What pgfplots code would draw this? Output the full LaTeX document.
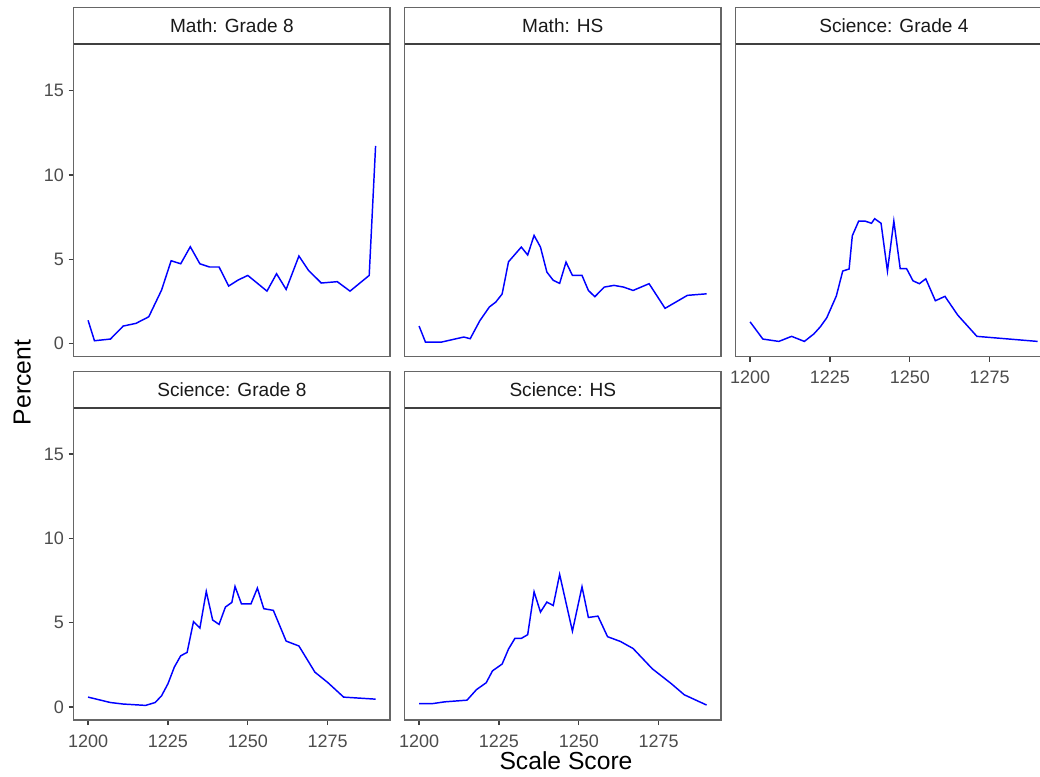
\documentclass[border=0pt]{standalone}
\usepackage{pgfplots}
\pgfplotsset{compat=1.18}
\usepackage{fontspec}
\setmainfont{Liberation Sans}

\def\pxu{0.75pt}

\pgfplotsset{
 panel/.style={
  scale only axis, width=237.2pt, height=234.8pt, anchor=north west,
  xmin=1195.5, xmax=1294.5, ymin=-0.77, ymax=17.78,
  xtick={1200,1225,1250,1275}, ytick={0,5,10,15},
  tick align=outside, major tick length=3.75pt,
  xtick pos=left, ytick pos=left,
  tick style={draw=black!75, line width=0.9pt},
  axis line style={draw=black!60, line width=0.9pt},
  tick label style={font=\fontsize{13.5}{15}\selectfont, text=black!70},
  xticklabel style={yshift=-3.5pt},
  /pgf/number format/assume math mode=true,
  /pgf/number format/1000 sep={},
  every axis plot/.append style={color=blue, line width=1.1pt, no markers},
 },
 nox/.style={xtick=\empty},
 noy/.style={ytick=\empty},
}

\newcommand\strip[3]{%
 \draw[black!60, line width=0.9pt, fill=white] ({#1*\pxu},{-#2*\pxu}) rectangle ({(#1+316.3)*\pxu},{-(#2+36.4)*\pxu});
 \draw[black!75, line width=1.6pt] ({#1*\pxu},{-(#2+36.4)*\pxu}) -- ({(#1+316.3)*\pxu},{-(#2+36.4)*\pxu});
 \node[anchor=base, font=\fontsize{14.3}{17}\selectfont, text=black!90] at ({(#1+158.15)*\pxu},{-(#2+25.4)*\pxu}) {#3};
}

\begin{document}
\begin{tikzpicture}
\path[use as bounding box] (0,0) rectangle ({1040*\pxu},{-776*\pxu});
\clip (0,0) rectangle ({1040*\pxu},{-776*\pxu});

% Math: Grade 8
\begin{axis}[panel, nox, at={({73.7*\pxu},{-43.7*\pxu})}]
\addplot coordinates {(1200,1.39) (1202,0.18) (1207,0.28) (1211,1.05) (1215,1.21) (1219,1.60) (1223,3.18) (1226,4.92) (1229,4.74) (1232,5.75) (1235,4.74) (1238,4.55) (1241,4.55) (1244,3.42) (1247,3.78) (1250,4.05) (1256,3.12) (1259,4.15) (1262,3.22) (1266,5.20) (1269,4.35) (1273,3.60) (1278,3.68) (1282,3.12) (1288,4.05) (1290,11.72)};
\end{axis}

% Math: HS
\begin{axis}[panel, nox, noy, at={({404.7*\pxu},{-43.7*\pxu})}]
\addplot coordinates {(1200,1.05) (1202,0.10) (1207,0.10) (1214,0.40) (1216,0.30) (1219,1.36) (1222,2.18) (1224,2.47) (1226,2.95) (1228,4.86) (1232,5.73) (1234,5.26) (1236,6.42) (1238,5.73) (1240,4.25) (1242,3.76) (1244,3.58) (1246,4.84) (1248,4.05) (1251,4.05) (1253,3.16) (1255,2.79) (1258,3.36) (1261,3.46) (1264,3.36) (1267,3.16) (1272,3.56) (1277,2.10) (1284,2.87) (1290,2.96)};
\end{axis}

% Science: Grade 4
\begin{axis}[panel, noy, at={({735.7*\pxu},{-43.7*\pxu})}]
\addplot coordinates {(1200,1.30) (1204,0.28) (1209,0.14) (1213,0.44) (1217,0.14) (1220,0.59) (1222,1.01) (1224,1.54) (1227,2.83) (1229,4.31) (1231,4.43) (1232,6.40) (1234,7.27) (1236,7.27) (1238,7.14) (1239,7.41) (1241,7.14) (1243,4.31) (1245,7.27) (1247,4.45) (1249,4.45) (1251,3.73) (1253,3.56) (1255,3.85) (1258,2.55) (1261,2.81) (1265,1.70) (1271,0.44) (1290,0.14)};
\end{axis}

% Science: Grade 8
\begin{axis}[panel, at={({73.7*\pxu},{-407*\pxu})}]
\addplot coordinates {(1200,0.59) (1207,0.27) (1211,0.18) (1218,0.10) (1221,0.27) (1223,0.67) (1225,1.38) (1227,2.37) (1229,3.04) (1231,3.24) (1233,5.06) (1235,4.68) (1237,6.85) (1239,5.16) (1241,4.90) (1243,5.93) (1245,6.20) (1246,7.15) (1248,6.12) (1251,6.12) (1253,7.05) (1255,5.83) (1258,5.73) (1262,3.91) (1266,3.62) (1271,2.07) (1275,1.46) (1280,0.59) (1290,0.47)};
\end{axis}

% Science: HS
\begin{axis}[panel, noy, at={({404.7*\pxu},{-407*\pxu})}]
\addplot coordinates {(1200,0.20) (1204,0.20) (1208,0.31) (1215,0.41) (1218,1.04) (1221,1.44) (1223,2.15) (1226,2.55) (1228,3.44) (1230,4.07) (1232,4.07) (1234,4.29) (1236,6.83) (1238,5.63) (1240,6.22) (1242,6.02) (1244,7.86) (1248,4.50) (1251,7.13) (1253,5.31) (1256,5.39) (1259,4.17) (1263,3.89) (1267,3.47) (1273,2.27) (1279,1.38) (1283,0.73) (1290,0.12)};
\end{axis}

\strip{73.7}{7.3}{Math: Grade 8}
\strip{404.7}{7.3}{Math: HS}
\strip{735.7}{7.3}{Science: Grade 4}
\strip{73.7}{371.3}{Science: Grade 8}
\strip{404.7}{371.3}{Science: HS}

\node[rotate=90, anchor=base, font=\fontsize{18.5}{22}\selectfont] at ({30.7*\pxu},{-382.5*\pxu}) {Percent};
\node[anchor=base, font=\fontsize{18.5}{22}\selectfont] at ({566*\pxu},{-769*\pxu}) {Scale Score};
\end{tikzpicture}
\end{document}
